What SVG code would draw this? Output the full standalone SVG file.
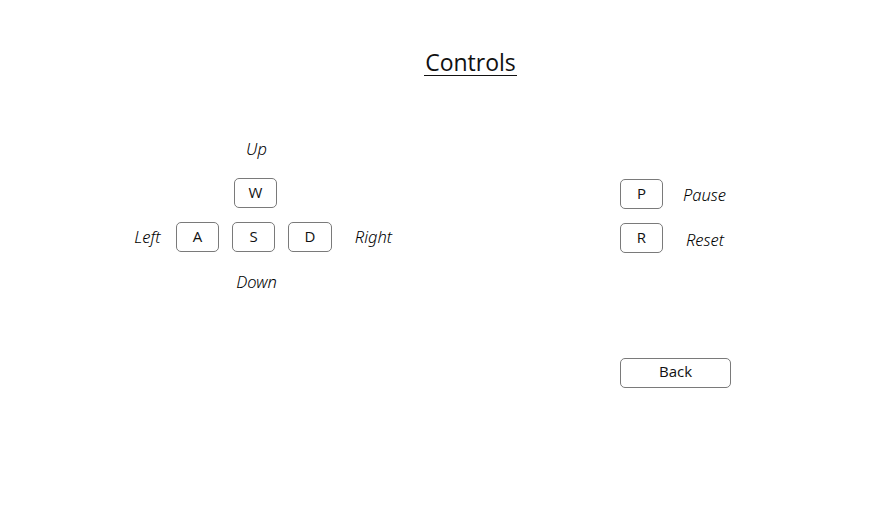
<svg xmlns="http://www.w3.org/2000/svg" width="896" height="508" viewBox="0 0 896 508">
<style>
.key{fill:#fff;stroke:#7a7a7a;stroke-width:1}
.kt{font-family:"Open Sans","Noto Sans",sans-serif;font-size:15px;font-weight:400;font-style:normal;fill:#111;text-anchor:middle}
.lbl{font-family:"Noto Sans","Open Sans",sans-serif;font-size:16.5px;font-style:italic;font-weight:300;fill:#000;text-anchor:middle}
.title{font-family:"Open Sans","Noto Sans",sans-serif;font-size:23px;font-weight:400;fill:#111;text-anchor:middle}
</style>
<rect width="896" height="508" fill="#fff"/>
<g id="title">
<text class="title" x="470.5" y="71">Controls</text>
<line x1="424" y1="75.5" x2="517" y2="75.5" stroke="#111" stroke-width="1.2"/>
</g>
<g id="up"><text class="lbl" x="256.5" y="155">Up</text></g>
<g id="key-w"><rect class="key" x="234.5" y="178.5" width="42" height="29" rx="4.5"/><text class="kt" x="255.5" y="198">W</text></g>
<g id="left"><text class="lbl" x="147.5" y="243">Left</text></g>
<g id="key-a"><rect class="key" x="176.5" y="222.5" width="42" height="29" rx="4.5"/><text class="kt" x="197.5" y="242">A</text></g>
<g id="key-s"><rect class="key" x="232.5" y="222.5" width="42" height="29" rx="4.5"/><text class="kt" x="253.5" y="242">S</text></g>
<g id="key-d"><rect class="key" x="288.5" y="222.5" width="43" height="29" rx="4.5"/><text class="kt" x="310" y="242">D</text></g>
<g id="right"><text class="lbl" x="373.5" y="243">Right</text></g>
<g id="down"><text class="lbl" x="256.5" y="288">Down</text></g>
<g id="key-p"><rect class="key" x="620.5" y="179.5" width="42" height="29" rx="4.5"/><text class="kt" x="641.5" y="199">P</text></g>
<g id="pause"><text class="lbl" x="704.5" y="201">Pause</text></g>
<g id="key-r"><rect class="key" x="620.5" y="223.5" width="42" height="29" rx="4.5"/><text class="kt" x="641.5" y="243">R</text></g>
<g id="reset"><text class="lbl" x="705" y="246">Reset</text></g>
<g id="back"><rect class="key" x="620.5" y="358.5" width="110" height="29" rx="4.5"/><text class="kt" x="675.5" y="377">Back</text></g>
<g id="connectors"></g>
</svg>
